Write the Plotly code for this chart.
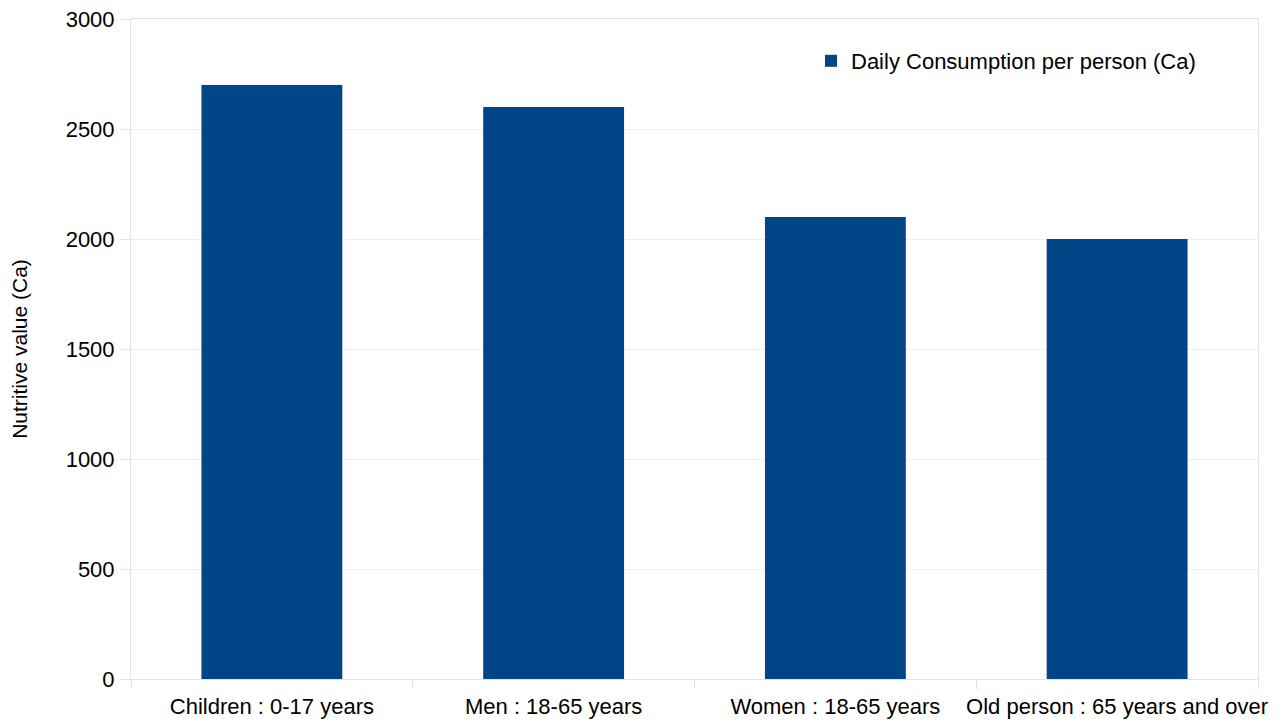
import plotly.graph_objects as go

categories = ["Children : 0-17 years", "Men : 18-65 years", "Women : 18-65 years", "Old person : 65 years and over"]
values = [2700, 2600, 2100, 2000]
series_name = "Daily Consumption per person (Ca)"
y_ticks = [0, 500, 1000, 1500, 2000, 2500, 3000]

W, H = 1283, 721
L, R, T, B = 123, 33, 11, 50
pw = W - L - R
ph = H - T - B

fig = go.Figure()
fig.add_trace(go.Bar(
    x=categories, y=values, name=series_name,
    marker=dict(color="#004586", line=dict(width=0)),
    showlegend=True,
))

font = "Liberation Sans, Arial, sans-serif"
fig.update_layout(
    width=W, height=H,
    margin=dict(l=L, r=R, t=T, b=B, pad=0, autoexpand=False),
    paper_bgcolor="white", plot_bgcolor="white",
    bargap=0.5,
    font=dict(family=font, size=22, color="black"),
    showlegend=True,
    legend=dict(
        x=(803 - L) / pw, y=(H - B - 53) / ph, xanchor="left", yanchor="middle",
        font=dict(family=font, size=22, color="black"),
        bgcolor="rgba(0,0,0,0)", itemwidth=30,
    ),
    xaxis=dict(
        type="category", tickangle=0, automargin=False,
        tickson="boundaries", ticks="outside", ticklen=9, tickcolor="#e3e3e3", tickwidth=1,
        ticklabelstandoff=8, ticklabeloverflow="allow",
        showline=True, linecolor="#e3e3e3", linewidth=1, mirror=True,
        showgrid=False, tickfont=dict(size=22),
    ),
    yaxis=dict(
        range=[0, 3000], tickvals=y_ticks, ticktext=[str(v) for v in y_ticks],
        automargin=False, ticklabeloverflow="allow",
        ticks="outside", ticklen=9, tickcolor="#e3e3e3", ticklabelstandoff=2,
        showline=True, linecolor="#e3e3e3", linewidth=1, mirror=True,
        showgrid=True, gridcolor="#efefef", gridwidth=1, zeroline=False,
        tickfont=dict(size=22),
        title=dict(text="Nutritive value (Ca)", font=dict(size=21), standoff=46),
    ),
)

fig.write_html("out.html")
